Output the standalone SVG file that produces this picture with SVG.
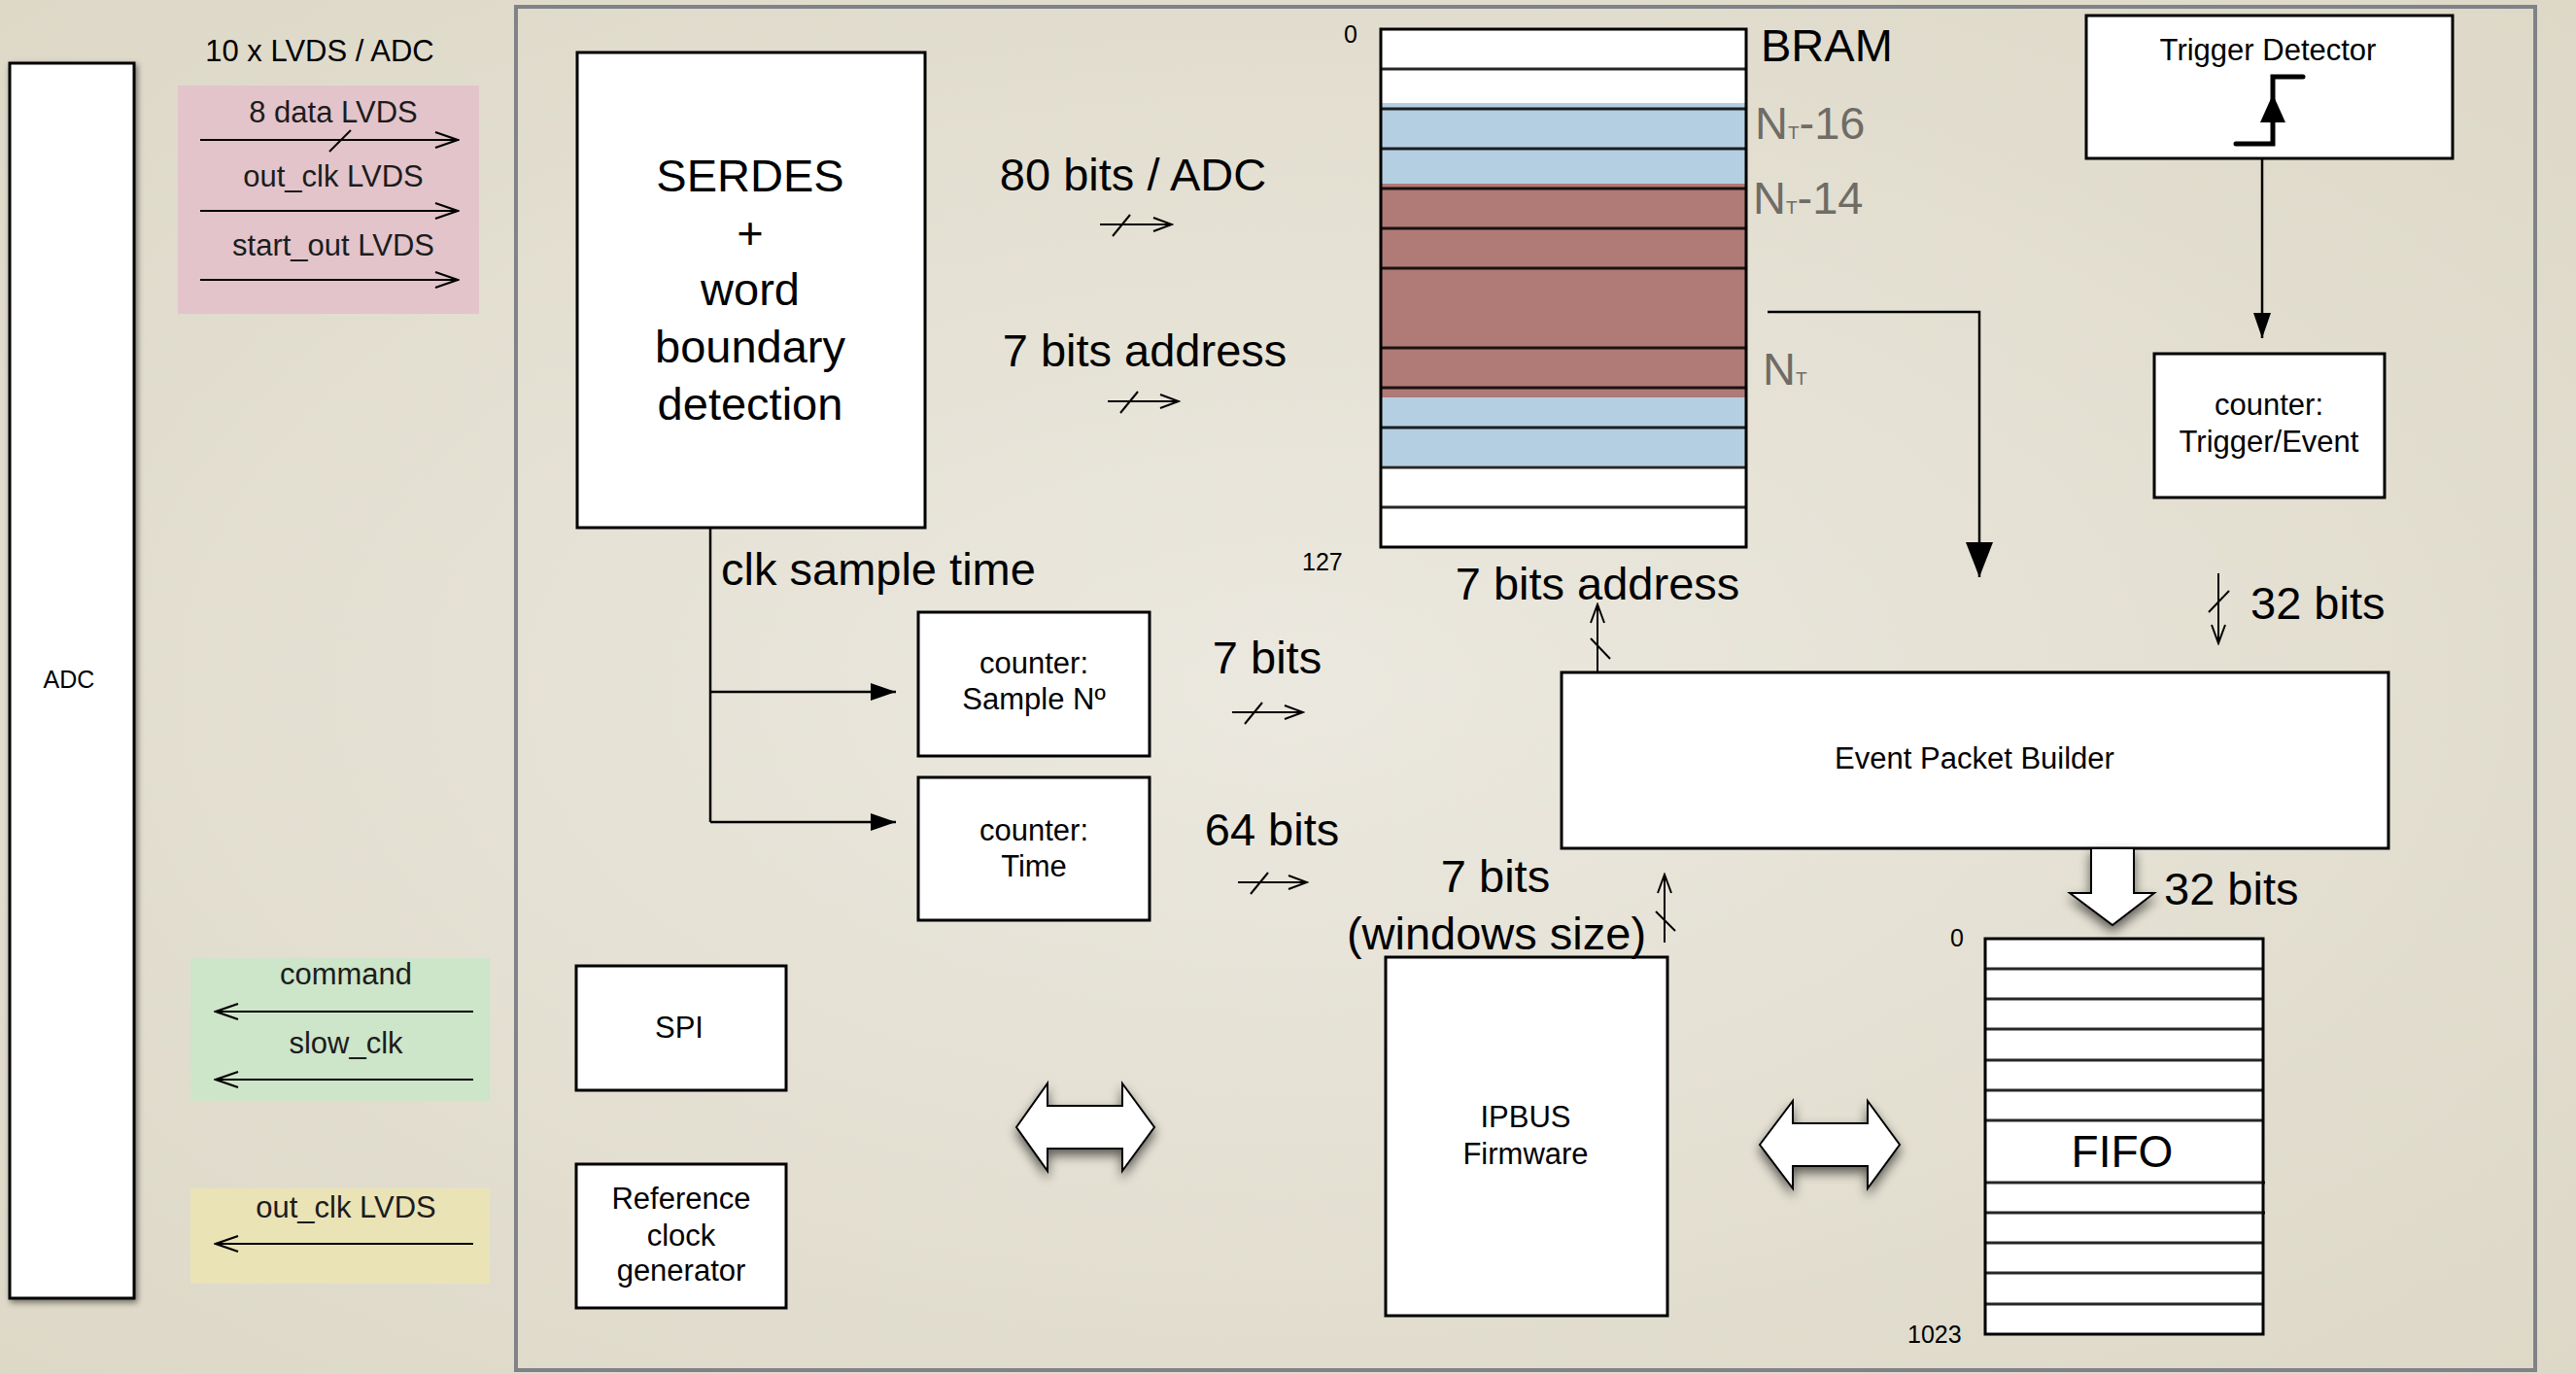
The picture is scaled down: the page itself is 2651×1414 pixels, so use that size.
<svg xmlns="http://www.w3.org/2000/svg" width="2651" height="1414" viewBox="0 0 2651 1414">
<defs>
<radialGradient id="bg" cx="0.5" cy="0.5" r="0.75">
<stop offset="0" stop-color="#ebe8df"/>
<stop offset="1" stop-color="#dcd7c5"/>
</radialGradient>
<filter id="shadow" x="-30%" y="-30%" width="160%" height="170%">
<feGaussianBlur in="SourceAlpha" stdDeviation="6"/>
<feOffset dx="0" dy="6" result="b"/>
<feComponentTransfer><feFuncA type="linear" slope="0.6"/></feComponentTransfer>
<feMerge><feMergeNode/><feMergeNode in="SourceGraphic"/></feMerge>
</filter>
<filter id="softshadow" x="-10%" y="-10%" width="130%" height="120%">
<feGaussianBlur in="SourceAlpha" stdDeviation="3"/>
<feOffset dx="2" dy="3" result="b"/>
<feComponentTransfer><feFuncA type="linear" slope="0.5"/></feComponentTransfer>
<feMerge><feMergeNode/><feMergeNode in="SourceGraphic"/></feMerge>
</filter>
<marker id="open" markerUnits="userSpaceOnUse" markerWidth="26" markerHeight="20" viewBox="0 0 26 20" refX="24" refY="10" orient="auto">
<path d="M1,2 L24,10 L1,18" fill="none" stroke="#000" stroke-width="2.2"/>
</marker>
<marker id="openS" markerUnits="userSpaceOnUse" markerWidth="22" markerHeight="18" viewBox="0 0 22 18" refX="20" refY="9" orient="auto">
<path d="M1,2 L20,9 L1,16" fill="none" stroke="#000" stroke-width="2"/>
</marker>
<marker id="fill" markerUnits="userSpaceOnUse" markerWidth="26" markerHeight="18" viewBox="0 0 26 18" refX="26" refY="9" orient="auto">
<path d="M0,0 L26,9 L0,18 z" fill="#000"/>
</marker>
<marker id="fillBig" markerUnits="userSpaceOnUse" markerWidth="36" markerHeight="28" viewBox="0 0 36 28" refX="36" refY="14" orient="auto">
<path d="M0,0 L36,14 L0,28 z" fill="#000"/>
</marker>
</defs>
<style>
text{font-family:"Liberation Sans",Arial,Helvetica,sans-serif;fill:#000}
.box{fill:#fff;stroke:#000;stroke-width:3}
.big{font-size:47px}
.sm{font-size:31px}
.tiny{font-size:25px}
.mid{text-anchor:middle}
.gray{fill:#6f6c66}
.ln{stroke:#000;stroke-width:2.5;fill:none}
.bus{stroke:#000;stroke-width:2;fill:none}
.row{stroke:#000;stroke-width:3;stroke-opacity:0.85}
.dark{fill:#1c1c1c}
</style>
<rect x="0" y="0" width="2651" height="1414" fill="url(#bg)"/>

<!-- outer frame -->
<rect x="531" y="7" width="2078" height="1403" fill="none" stroke="#808288" stroke-width="4"/>

<!-- ADC -->
<g id="adc">
<rect x="10" y="65" width="128" height="1271" class="box" filter="url(#softshadow)"/>
<text x="71" y="708" class="tiny mid">ADC</text>
</g>

<text x="329" y="63" class="sm mid">10 x LVDS / ADC</text>

<!-- LVDS input group -->
<g id="lvds-in">
<rect x="183" y="88" width="310" height="235" fill="#e3c4cb"/>
<text x="343" y="126" class="sm mid dark">8 data LVDS</text>
<text x="343" y="192" class="sm mid dark">out_clk LVDS</text>
<text x="343" y="263" class="sm mid dark">start_out LVDS</text>
</g>

<!-- command group -->
<g id="cmd">
<rect x="196" y="986" width="308" height="147" fill="#cde5c8"/>
<text x="356" y="1013" class="sm mid dark">command</text>
<text x="356" y="1084" class="sm mid dark">slow_clk</text>
</g>

<!-- out_clk group -->
<g id="outclk">
<rect x="196" y="1223" width="308" height="98" fill="#eae3b6"/>
<text x="356" y="1253" class="sm mid dark">out_clk LVDS</text>
</g>

<!-- SERDES -->
<g id="serdes">
<rect x="594" y="54" width="358" height="489" class="box"/>
<text x="772" y="197" class="big mid">SERDES</text>
<text x="772" y="256" class="big mid">+</text>
<text x="772" y="314" class="big mid">word</text>
<text x="772" y="373" class="big mid">boundary</text>
<text x="772" y="432" class="big mid">detection</text>
</g>

<!-- counters -->
<g id="cnt-sample">
<rect x="945" y="630" width="238" height="148" class="box"/>
<text x="1064" y="693" class="sm mid">counter:</text>
<text x="1064" y="730" class="sm mid">Sample Nº</text>
</g>
<g id="cnt-time">
<rect x="945" y="800" width="238" height="147" class="box"/>
<text x="1064" y="865" class="sm mid">counter:</text>
<text x="1064" y="902" class="sm mid">Time</text>
</g>

<!-- SPI -->
<g id="spi">
<rect x="593" y="994" width="216" height="128" class="box"/>
<text x="699" y="1068" class="sm mid">SPI</text>
</g>

<!-- Reference clock -->
<g id="refclk">
<rect x="593" y="1198" width="216" height="148" class="box"/>
<text x="701" y="1244" class="sm mid">Reference</text>
<text x="701" y="1282" class="sm mid">clock</text>
<text x="701" y="1318" class="sm mid">generator</text>
</g>

<!-- BRAM -->
<g id="bram">
<rect x="1421" y="30" width="376" height="533" fill="#fff"/>
<rect x="1421" y="106" width="376" height="373" fill="#b5cfe2"/>
<rect x="1421" y="189" width="376" height="220" fill="#b07a76"/>
<g class="row">
<line x1="1421" y1="71" x2="1797" y2="71"/>
<line x1="1421" y1="112" x2="1797" y2="112"/>
<line x1="1421" y1="153" x2="1797" y2="153"/>
<line x1="1421" y1="194" x2="1797" y2="194"/>
<line x1="1421" y1="235" x2="1797" y2="235"/>
<line x1="1421" y1="276" x2="1797" y2="276"/>
<line x1="1421" y1="358" x2="1797" y2="358"/>
<line x1="1421" y1="399" x2="1797" y2="399"/>
<line x1="1421" y1="440" x2="1797" y2="440"/>
<line x1="1421" y1="481" x2="1797" y2="481"/>
<line x1="1421" y1="522" x2="1797" y2="522"/>
</g>
<rect x="1421" y="30" width="376" height="533" fill="none" stroke="#000" stroke-width="3"/>
<text x="1812" y="63" class="big">BRAM</text>
<text x="1806" y="143" class="big gray">N<tspan font-size="19px">T</tspan>-16</text>
<text x="1804" y="220" class="big gray">N<tspan font-size="19px">T</tspan>-14</text>
<text x="1814" y="396" class="big gray">N<tspan font-size="19px">T</tspan></text>
<text x="1383" y="44" class="tiny">0</text>
<text x="1340" y="587" class="tiny">127</text>
</g>

<!-- Trigger detector -->
<g id="trigger">
<rect x="2147" y="16" width="377" height="147" class="box"/>
<text x="2334" y="62" class="sm mid">Trigger Detector</text>
<path d="M2301,148 L2339,148 L2339,79 L2370,79" fill="none" stroke="#000" stroke-width="5" stroke-linecap="round" stroke-linejoin="miter"/>
<path d="M2339,97 L2352,126 L2326,126 z" fill="#000"/>
</g>

<!-- counter trigger/event -->
<g id="cnt-trig">
<rect x="2217" y="364" width="237" height="148" class="box"/>
<text x="2335" y="427" class="sm mid">counter:</text>
<text x="2335" y="465" class="sm mid">Trigger/Event</text>
</g>

<!-- Event Packet Builder -->
<g id="epb">
<rect x="1607" y="692" width="851" height="181" class="box"/>
<text x="2032" y="791" class="sm mid">Event Packet Builder</text>
</g>

<!-- IPBUS -->
<g id="ipbus">
<rect x="1426" y="985" width="290" height="369" class="box"/>
<text x="1570" y="1160" class="sm mid">IPBUS</text>
<text x="1570" y="1198" class="sm mid">Firmware</text>
</g>

<!-- FIFO -->
<g id="fifo">
<rect x="2043" y="966" width="286" height="407" fill="#fff"/>
<g class="row">
<line x1="2043" y1="997" x2="2329" y2="997"/>
<line x1="2043" y1="1028" x2="2329" y2="1028"/>
<line x1="2043" y1="1059" x2="2329" y2="1059"/>
<line x1="2043" y1="1091" x2="2329" y2="1091"/>
<line x1="2043" y1="1122" x2="2329" y2="1122"/>
<line x1="2043" y1="1153" x2="2329" y2="1153"/>
<line x1="2043" y1="1217" x2="2331" y2="1217"/>
<line x1="2043" y1="1248" x2="2331" y2="1248"/>
<line x1="2043" y1="1279" x2="2329" y2="1279"/>
<line x1="2043" y1="1310" x2="2329" y2="1310"/>
<line x1="2043" y1="1342" x2="2329" y2="1342"/>
</g>
<rect x="2043" y="966" width="286" height="407" fill="none" stroke="#000" stroke-width="3"/>
<text x="2184" y="1201" font-size="46px" class="mid">FIFO</text>
<text x="2007" y="974" class="tiny">0</text>
<text x="1963" y="1382" class="tiny">1023</text>
</g>

<!-- labels -->
<g id="labels">
<text x="1166" y="196" class="big mid">80 bits / ADC</text>
<text x="1178" y="377" class="big mid">7 bits address</text>
<text x="742" y="602" class="big">clk sample time</text>
<text x="1644" y="617" class="big mid">7 bits address</text>
<text x="1304" y="693" class="big mid">7 bits</text>
<text x="1309" y="870" class="big mid">64 bits</text>
<text x="1539" y="918" class="big mid">7 bits</text>
<text x="1540" y="977" class="big mid">(windows size)</text>
<text x="2316" y="637" class="big">32 bits</text>
<text x="2227" y="931" class="big">32 bits</text>
</g>

<!-- connectors -->
<g id="connectors">
<!-- LVDS in arrows -->
<line x1="206" y1="144" x2="471" y2="144" class="bus" marker-end="url(#open)" stroke-width="2.5"/>
<line x1="339" y1="156" x2="361" y2="134" class="bus"/>
<line x1="206" y1="217" x2="471" y2="217" class="bus" marker-end="url(#open)" stroke-width="2.5"/>
<line x1="206" y1="288" x2="471" y2="288" class="bus" marker-end="url(#open)" stroke-width="2.5"/>
<!-- out arrows -->
<line x1="487" y1="1041" x2="222" y2="1041" class="bus" marker-end="url(#open)" stroke-width="2.5"/>
<line x1="487" y1="1111" x2="222" y2="1111" class="bus" marker-end="url(#open)" stroke-width="2.5"/>
<line x1="487" y1="1280" x2="222" y2="1280" class="bus" marker-end="url(#open)" stroke-width="2.5"/>
<!-- bus arrows -->
<line x1="1132" y1="231" x2="1206" y2="231" class="bus" marker-end="url(#openS)"/>
<line x1="1145" y1="243" x2="1163" y2="221" class="bus"/>
<line x1="1140" y1="413" x2="1213" y2="413" class="bus" marker-end="url(#openS)"/>
<line x1="1153" y1="425" x2="1171" y2="403" class="bus"/>
<line x1="1268" y1="733" x2="1341" y2="733" class="bus" marker-end="url(#openS)"/>
<line x1="1281" y1="745" x2="1299" y2="723" class="bus"/>
<line x1="1274" y1="908" x2="1345" y2="908" class="bus" marker-end="url(#openS)"/>
<line x1="1287" y1="920" x2="1305" y2="898" class="bus"/>
<!-- clk sample time -->
<path d="M731,543 L731,846" class="ln"/>
<line x1="731" y1="712" x2="922" y2="712" class="ln" marker-end="url(#fill)"/>
<line x1="731" y1="846" x2="922" y2="846" class="ln" marker-end="url(#fill)"/>
<!-- BRAM to EPB -->
<path d="M1819,321 L2037,321 L2037,594" class="ln" stroke-width="3" marker-end="url(#fillBig)"/>
<!-- EPB to BRAM address -->
<line x1="1644" y1="692" x2="1644" y2="622" class="bus" marker-end="url(#openS)"/>
<line x1="1637" y1="657" x2="1657" y2="678" class="bus"/>
<!-- IPBUS to EPB -->
<line x1="1713" y1="970" x2="1713" y2="900" class="bus" marker-end="url(#openS)"/>
<line x1="1704" y1="938" x2="1724" y2="958" class="bus"/>
<!-- 32 bits down -->
<line x1="2283" y1="590" x2="2283" y2="662" class="bus" marker-end="url(#openS)"/>
<line x1="2273" y1="630" x2="2294" y2="608" class="bus"/>
<!-- trigger to counter -->
<line x1="2328" y1="163" x2="2328" y2="348" class="ln" marker-end="url(#fill)"/>
<!-- block arrow EPB -> FIFO -->
<path d="M2152,873 L2196,873 L2196,919 L2217,919 L2174,952 L2130,919 L2152,919 z" fill="#fff" stroke="#000" stroke-width="2" filter="url(#shadow)"/>
<!-- double arrows -->
<path d="M1046,1160 L1078,1115 L1078,1138 L1155,1138 L1155,1115 L1188,1160 L1155,1205 L1155,1182 L1078,1182 L1078,1205 z" fill="#fff" stroke="#000" stroke-width="2" filter="url(#shadow)"/>
<path d="M1811,1178 L1845,1133 L1845,1156 L1922,1156 L1922,1133 L1955,1178 L1922,1223 L1922,1200 L1845,1200 L1845,1223 z" fill="#fff" stroke="#000" stroke-width="2" filter="url(#shadow)"/>
</g>
</svg>
